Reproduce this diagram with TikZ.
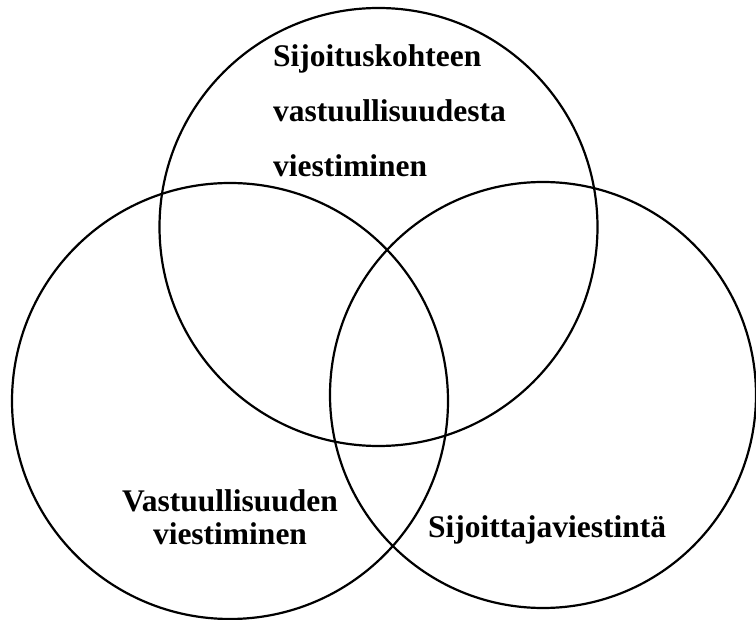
\documentclass[tikz,border=0pt]{standalone}
\usepackage{fontspec}
\setmainfont{Liberation Serif}
\begin{document}
\begin{tikzpicture}[x=1pt,y=-1pt,line width=2.2pt,
  label/.style={font=\fontsize{31.5}{33}\selectfont\bfseries,inner sep=0pt}]
\useasboundingbox (0,0) rectangle (756,620);
\draw (378.5,227) circle (219pt);
\draw (230,401) circle (218pt);
\draw (543,395) circle (213pt);
\node[label,anchor=base west,align=left,font=\fontsize{31.5}{55}\selectfont\bfseries] (kohde) at (272,177) {Sijoituskohteen\\vastuullisuudesta\\viestiminen};
\node[label,anchor=base,align=center] (vastuu) at (230,545) {Vastuullisuuden\\viestiminen};
\node[label,anchor=base west] (sijoittaja) at (427,537) {Sijoittajaviestintä};
\end{tikzpicture}
\end{document}
